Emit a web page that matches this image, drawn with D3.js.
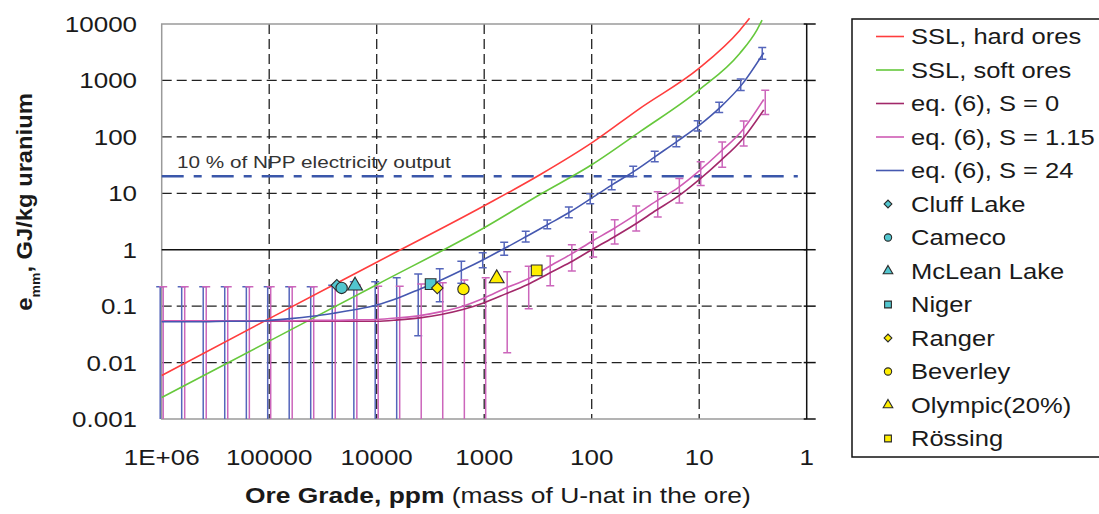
<!DOCTYPE html>
<html>
<head>
<meta charset="utf-8">
<script src="https://cdnjs.cloudflare.com/ajax/libs/d3/7.8.5/d3.min.js"></script>
<style>
body { margin: 0; background: #fff; }
svg { display: block; font-family: "Liberation Sans", Arial, sans-serif; }
</style>
</head>
<body>
<div id="chart"></div>
<script>
var width = 1099, height = 514;

// ore grades (ppm) where the model curves were evaluated / error bars drawn
var grades = [1000000, 631000, 398000, 251000, 158000, 100000, 63100, 39800, 25100, 15800,
	10000, 6310, 3980, 2510, 1580, 1000, 631, 398, 251, 158,
	100, 63.1, 39.8, 25.1, 15.8, 10, 6.31, 3.98, 2.51];

// eq. (6), S = 24
var s24 = [0.053, 0.053, 0.053, 0.054, 0.054, 0.056, 0.06, 0.066, 0.075, 0.087,
	0.105, 0.14, 0.2, 0.29, 0.44, 0.68, 1.08, 1.75, 2.85, 4.7,
	8.2, 14.5, 25, 46, 85, 160, 340, 860, 3100];
var s24Err = [0.167, 0.167, 0.167, 0.166, 0.166, 0.164, 0.16, 0.154, 0.16, 0.183,
	0.165, 0.18, 0.17, 0.17, 0.185, 0.2, 0.28, 0.38, 0.5, 1.0,
	1.65, 2.9, 5.2, 9.7, 18.5, 33, 71, 195, 725];

// eq. (6), S = 1.15
var s115 = [0.055, 0.055, 0.055, 0.055, 0.055, 0.055, 0.055, 0.056, 0.056, 0.057,
	0.058, 0.062, 0.068, 0.08, 0.1, 0.14, 0.21, 0.3, 0.5, 0.82,
	1.4, 2.33, 4.05, 7.25, 12.5, 25, 55, 130, 460];
var s115Err = [0.165, 0.165, 0.165, 0.165, 0.165, 0.165, 0.165, 0.165, 0.165, 0.18,
	0.168, 0.164, 0.18, 0.18, 0.19, 0.18, 0.195, 0.21, 0.27, 0.4,
	0.66, 1.07, 1.9, 3.45, 5.75, 11.2, 26, 61, 210];

// eq. (6), S = 0
var s0 = [0.054, 0.054, 0.054, 0.054, 0.054, 0.054, 0.054, 0.054, 0.054, 0.054,
	0.054, 0.057, 0.062, 0.071, 0.087, 0.115, 0.165, 0.24, 0.38, 0.6,
	1.0, 1.65, 2.8, 5.0, 8.8, 17.5, 38, 90, 300];

// Storm van Leeuwen & Smith curves
var sslHardGrade = [1000000, 100000, 10000, 1000, 300, 100, 35, 10, 4.2, 3.4];
var sslHard = [0.0059, 0.06, 0.6, 6.0, 21.5, 78, 327, 1650, 7700, 12600];
var sslSoftGrade = [1000000, 100000, 10000, 1000, 300, 100, 35, 10, 4.2, 2.9, 2.6];
var sslSoft = [0.0024, 0.024, 0.24, 2.45, 9.6, 32, 126, 680, 3000, 7900, 11700];

// mine data points
var sites = ["Cluff Lake", "Cameco", "McLean Lake", "Niger", "Ranger", "Beverley", "Olympic(20%)", "R\u00f6ssing"];
var siteGrade = [23500, 21200, 15900, 3150, 2730, 1560, 765, 325];
var siteValue = [0.235, 0.21, 0.23, 0.245, 0.21, 0.2, 0.31, 0.43];
var siteShape = ["diamond", "circle", "triangle", "square", "diamond", "circle", "triangle", "square"];
var siteFill = ["#52c6cf", "#52c6cf", "#52c6cf", "#52c6cf", "#ffee00", "#ffee00", "#ffee00", "#ffee00"];

// 10 % of NPP electricity output
var nppValue = 20;
var nppGrades = [1000000, 1.21];

var xTicks = [1000000, 100000, 10000, 1000, 100, 10, 1];
var xTickLabels = ["1E+06", "100000", "10000", "1000", "100", "10", "1"];
var yTicks = [10000, 1000, 100, 10, 1, 0.1, 0.01, 0.001];
var yTickLabels = ["10000", "1000", "100", "10", "1", "0.1", "0.01", "0.001"];

var curveNames = ["SSL, hard ores", "SSL, soft ores", "eq. (6), S = 0", "eq. (6), S = 1.15", "eq. (6), S = 24"];
var curveColors = ["#ff3d3d", "#66c83c", "#a2286a", "#cf5cb4", "#4558b0"];

var sx = 1.18; // the original text is drawn a bit wide

var svg = d3.select("#chart").append("svg")
	.attr("width", width)
	.attr("height", height);

var x = d3.scaleLog().domain([1000000, 1]).range([161.7, 806.7]);
var y = d3.scaleLog().domain([0.001, 10000]).range([419, 24]);

function place(sel, px, py, s) {
	return sel.attr("transform", "translate(" + px + "," + py + ") scale(" + s + ",1)");
}

// grid
svg.append("g").selectAll("line")
	.data(xTicks.slice(1, -1))
	.enter().append("line")
	.attr("x1", function(d) { return x(d); })
	.attr("x2", function(d) { return x(d); })
	.attr("y1", y(10000))
	.attr("y2", y(0.001))
	.attr("stroke", "#222")
	.attr("stroke-width", 1.3)
	.attr("stroke-dasharray", "10,5");

svg.append("g").selectAll("line")
	.data([1000, 100, 10, 0.1, 0.01])
	.enter().append("line")
	.attr("x1", x(1000000))
	.attr("x2", x(1))
	.attr("y1", function(d) { return y(d); })
	.attr("y2", function(d) { return y(d); })
	.attr("stroke", "#222")
	.attr("stroke-width", 1.3)
	.attr("stroke-dasharray", "10,5");

// frame
svg.append("path")
	.attr("d", "M" + x(1) + "," + y(10000) + "H" + x(1000000) + "V" + y(0.001) + "H" + x(1))
	.attr("fill", "none")
	.attr("stroke", "#9a9a9a")
	.attr("stroke-width", 1.5);

svg.append("line")
	.attr("x1", x(1000000)).attr("x2", x(1))
	.attr("y1", y(1)).attr("y2", y(1))
	.attr("stroke", "#111").attr("stroke-width", 1.5);

svg.append("line")
	.attr("x1", x(1)).attr("x2", x(1))
	.attr("y1", y(10000)).attr("y2", y(0.001))
	.attr("stroke", "#111").attr("stroke-width", 1.5);

svg.append("g").selectAll("line")
	.data(yTicks)
	.enter().append("line")
	.attr("x1", x(1) - 3)
	.attr("x2", x(1) + 9)
	.attr("y1", function(d) { return y(d); })
	.attr("y2", function(d) { return y(d); })
	.attr("stroke", "#111").attr("stroke-width", 1.5);

// tick labels
svg.append("g").selectAll("text")
	.data(yTicks)
	.enter().append("text")
	.each(function(d, i) { place(d3.select(this), 137, y(d), sx); })
	.attr("dy", "0.36em")
	.attr("text-anchor", "end")
	.attr("font-size", 22)
	.attr("fill", "#1a1a1a")
	.text(function(d, i) { return yTickLabels[i]; });

svg.append("g").selectAll("text")
	.data(xTicks)
	.enter().append("text")
	.each(function(d, i) { place(d3.select(this), x(d), 465, sx); })
	.attr("text-anchor", "middle")
	.attr("font-size", 22)
	.attr("fill", "#1a1a1a")
	.text(function(d, i) { return xTickLabels[i]; });

// 10 % NPP line
svg.append("line")
	.attr("x1", x(nppGrades[0])).attr("x2", x(nppGrades[1]))
	.attr("y1", y(nppValue)).attr("y2", y(nppValue))
	.attr("stroke", "#3a57aa")
	.attr("stroke-width", 2.6)
	.attr("stroke-dasharray", "22,10,8,10");

place(svg.append("text"), 177, 168, 1.22)
	.attr("font-size", 17)
	.attr("fill", "#333")
	.text("10 % of NPP electricity output");

// error bars
function errorBars(vals, errs, color, off) {
	var g = svg.append("g").attr("stroke", color).attr("stroke-width", 1.5).attr("fill", "none");
	grades.forEach(function(gr, i) {
		var px = x(gr) + off;
		var lo = vals[i] - errs[i];
		var y1 = lo > 0.001 ? y(lo) : y(0.001);
		var y2 = y(vals[i] + errs[i]);
		var d = "M" + px + "," + y1 + "V" + y2 + "M" + (px - 4) + "," + y2 + "H" + (px + 4);
		if (lo > 0.001) d += "M" + (px - 4) + "," + y1 + "H" + (px + 4);
		g.append("path").attr("d", d);
	});
}
errorBars(s24, s24Err, "#5566bb", -1.5);
errorBars(s115, s115Err, "#cc66bb", 1.5);

// curves
var line = d3.line()
	.x(function(d) { return x(d[0]); })
	.y(function(d) { return y(d[1]); })
	.curve(d3.curveMonotoneX);

function curve(gs, vs, color) {
	svg.append("path")
		.datum(gs.map(function(g, i) { return [g, vs[i]]; }))
		.attr("d", line)
		.attr("fill", "none")
		.attr("stroke", color)
		.attr("stroke-width", 1.6);
}
curve(sslHardGrade, sslHard, curveColors[0]);
curve(sslSoftGrade, sslSoft, curveColors[1]);
curve(grades, s0, curveColors[2]);
curve(grades, s115, curveColors[3]);
curve(grades, s24, curveColors[4]);

// markers
var symbols = {
	circle: d3.symbolCircle,
	square: d3.symbolSquare,
	triangle: d3.symbolTriangle,
	diamond: d3.symbolSquare
};
var bigSize = { circle: 100, square: 115, triangle: 95, diamond: 66 };
var smallSize = { circle: 42, square: 46, triangle: 40, diamond: 30 };

function marker(g, shape, px, py, size, fill) {
	g.append("path")
		.attr("d", d3.symbol().type(symbols[shape]).size(size[shape])())
		.attr("transform", "translate(" + px + "," + py + ")" + (shape == "diamond" ? " rotate(45)" : ""))
		.attr("fill", fill)
		.attr("stroke", "#2a2a2a")
		.attr("stroke-width", 1.1);
}

var mk = svg.append("g");
sites.forEach(function(s, i) {
	marker(mk, siteShape[i], x(siteGrade[i]), y(siteValue[i]), bigSize, siteFill[i]);
});

// axis titles
var xt = place(svg.append("text"), 245, 503, 1.2)
	.attr("font-size", 22)
	.attr("fill", "#1a1a1a");
xt.append("tspan").attr("font-weight", "bold").text("Ore Grade, ppm");
xt.append("tspan").text(" (mass of U-nat in the ore)");

var yt = svg.append("text")
	.attr("transform", "translate(32,202) rotate(-90) scale(1.08,1)")
	.attr("text-anchor", "middle")
	.attr("font-size", 22)
	.attr("font-weight", "bold")
	.attr("fill", "#1a1a1a");
yt.append("tspan").text("e");
yt.append("tspan").attr("font-size", 13).attr("dy", 8).text("mm");
yt.append("tspan").attr("dy", -8).text(", GJ/kg uranium");

// legend
var lg = svg.append("g");
lg.append("rect")
	.attr("x", 852).attr("y", 19)
	.attr("width", 300).attr("height", 438)
	.attr("fill", "#fff")
	.attr("stroke", "#111")
	.attr("stroke-width", 1.5);

var rowY = function(i) { return 36.5 + i * 33.5; };

curveNames.forEach(function(n, i) {
	lg.append("line")
		.attr("x1", 876).attr("x2", 904)
		.attr("y1", rowY(i)).attr("y2", rowY(i))
		.attr("stroke", curveColors[i])
		.attr("stroke-width", 1.6);
});
sites.forEach(function(s, i) {
	marker(lg, siteShape[i], 888, rowY(i + 5), smallSize, siteFill[i]);
});

lg.selectAll("text")
	.data(curveNames.concat(sites))
	.enter().append("text")
	.each(function(d, i) { place(d3.select(this), 911, rowY(i), 1.16); })
	.attr("dy", "0.36em")
	.attr("font-size", 22)
	.attr("fill", "#1a1a1a")
	.text(function(d) { return d; });
</script>
</body>
</html>
